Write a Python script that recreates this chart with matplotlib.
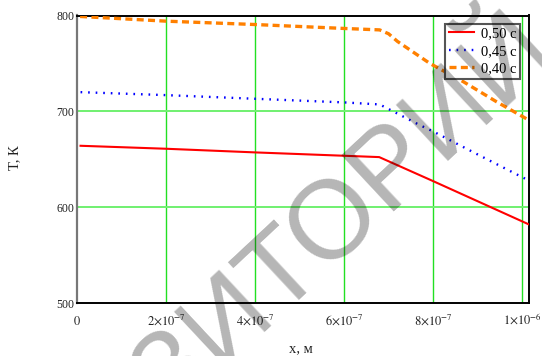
import matplotlib
matplotlib.use('Agg')
import matplotlib.pyplot as plt
from matplotlib.ticker import FixedLocator, FixedFormatter

plt.rcParams['font.family'] = ['Liberation Serif', 'DejaVu Serif']
plt.rcParams['mathtext.fontset'] = 'stix'

# temperature profiles T(x) for three moments of time
x_050 = [0.08e-7, 2e-7, 4e-7, 6e-7, 6.79e-7, 8e-7, 10.15e-7]
T_050 = [664.2, 661.1, 657.3, 653.8, 652.4, 627.4, 582.3]

x_045 = [0.08e-7, 2e-7, 4e-7, 6e-7, 6.8e-7, 7.7e-7, 8e-7, 9e-7, 10.15e-7]
T_045 = [720.1, 717.0, 713.2, 709.4, 707.3, 685.8, 679.2, 655.2, 628.0]

x_040 = [0.07e-7, 2e-7, 4e-7, 6e-7, 6.8e-7, 7.0e-7, 7.2e-7, 7.93e-7, 8.68e-7, 9.43e-7, 10.15e-7]
T_040 = [799.0, 794.1, 790.6, 786.5, 785.0, 781.0, 773.0, 750.0, 731.0, 710.0, 691.0]

labels = ['0,50 с', '0,45 с', '0,40 с']

x_ticks = [0, 2e-7, 4e-7, 6e-7, 8e-7, 1e-6]
x_tick_labels = ['$0$', r'$2{\times}10^{-7}$', r'$4{\times}10^{-7}$',
                 r'$6{\times}10^{-7}$', r'$8{\times}10^{-7}$', r'$1{\times}10^{-6}$']
y_ticks = [500, 600, 700, 800]

fig = plt.figure(figsize=(5.42, 3.56), dpi=100)
ax = fig.add_axes([77 / 542, 1 - 303.3 / 356, 452 / 542, 287.8 / 356])

ax.plot(x_050, T_050, color='#ff0000', lw=1.5, label=labels[0], zorder=5)
ax.plot(x_045, T_045, color='#0000ff', lw=1.7, linestyle=(0, (0.7, 2.5)),
        label=labels[1], zorder=5)
ax.plot(x_040, T_040, color='#ff8000', lw=2.4, linestyle=(0, (2.1, 1.3)),
        label=labels[2], zorder=5)

ax.set_xlim(0, 1.0156e-6)
ax.set_ylim(500, 800)

ax.xaxis.set_major_locator(FixedLocator(x_ticks))
ax.xaxis.set_major_formatter(FixedFormatter(x_tick_labels))
ax.yaxis.set_major_locator(FixedLocator(y_ticks))

# green grid, vertical lines a bit darker than horizontal
for xv in x_ticks[1:]:
    ax.axvline(xv, color='#22e022', lw=1.0, zorder=1)
for yv in y_ticks[1:3]:
    ax.axhline(yv, color='#70f070', lw=1.4, zorder=1)

ax.tick_params(axis='both', length=0, labelsize=8.5, colors='#222222')
ax.tick_params(axis='x', pad=15.5)
ax.tick_params(axis='y', pad=2)
for lab in ax.get_xticklabels():
    lab.set_va('baseline')
    lab.set_fontsize(9)

for side in ['top', 'right', 'bottom']:
    ax.spines[side].set_color('black')
    ax.spines[side].set_linewidth(1.4)
ax.spines['left'].set_color('#777777')
ax.spines['left'].set_linewidth(1.6)

leg = ax.legend(loc='upper right', bbox_to_anchor=(0.980, 0.972), fontsize=10.5,
                frameon=True, fancybox=False, framealpha=1, borderpad=0.25,
                labelspacing=0.28, handlelength=1.7, handletextpad=0.5,
                borderaxespad=0)
leg.get_frame().set_edgecolor('#555555')
leg.get_frame().set_linewidth(1.5)
leg.set_zorder(10)

fig.text(15 / 542, 1 - 158 / 356, 'T, К', rotation=90, ha='center', va='center',
         fontsize=10.5, color='#222222')
fig.text(301 / 542, 1 - 349 / 356, 'x, м', ha='center', va='center',
         fontsize=10.5, color='#222222')

# repository watermark
fig.text(228 / 542, 1 - 318 / 356, 'РЕПОЗИТОРИЙ', rotation=43, ha='center',
         va='center', rotation_mode='anchor', fontsize=80,
         family='Liberation Sans', color='black', alpha=0.29, zorder=20)

fig.savefig('out.png', dpi=100)
